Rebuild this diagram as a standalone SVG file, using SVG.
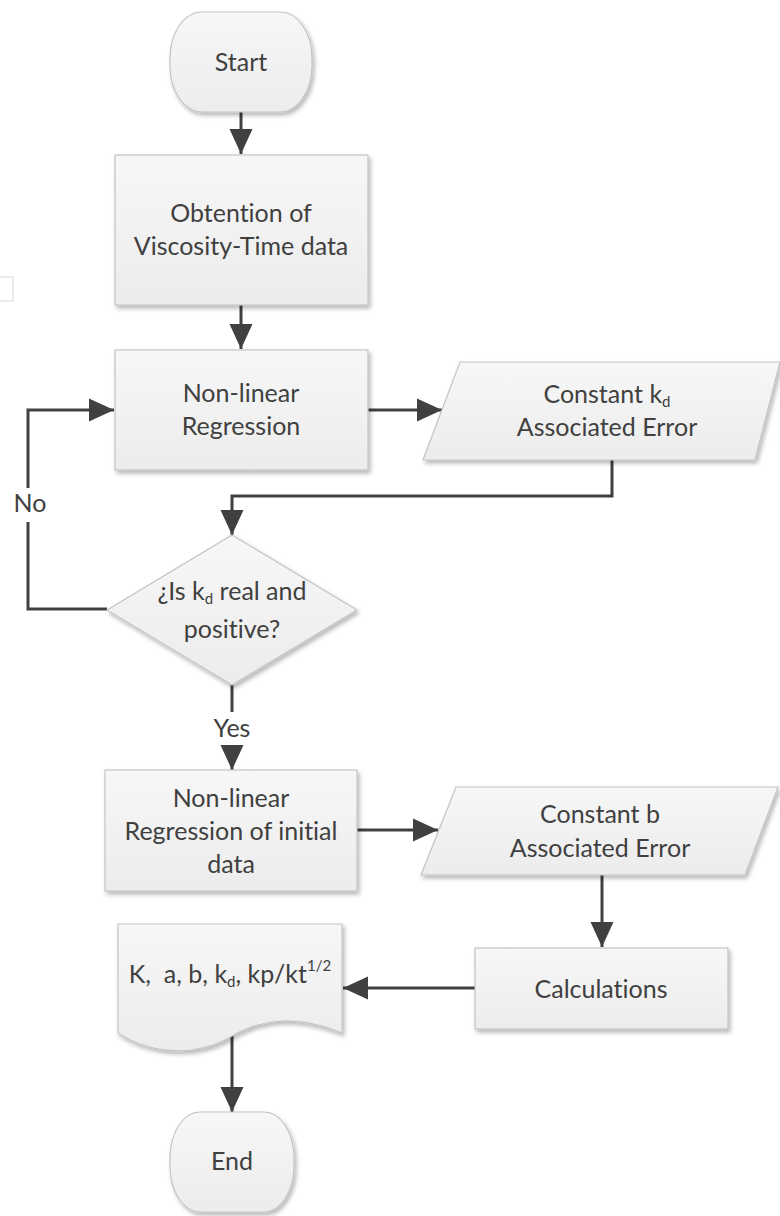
<svg xmlns="http://www.w3.org/2000/svg" width="780" height="1216" viewBox="0 0 780 1216">
<defs>
<linearGradient id="g" x1="0" y1="0" x2="0" y2="1">
<stop offset="0" stop-color="#f7f7f7"/>
<stop offset="1" stop-color="#ececec"/>
</linearGradient>
<filter id="sh" x="-10%" y="-10%" width="125%" height="130%">
<feDropShadow dx="2" dy="3" stdDeviation="2" flood-color="#000" flood-opacity="0.28"/>
</filter>
<marker id="ah" markerUnits="userSpaceOnUse" markerWidth="26" markerHeight="24" viewBox="0 0 26 24" refX="25" refY="12" orient="auto">
<path d="M0,0.5 L25,12 L0,23.5 Z" fill="#404040"/>
</marker>
<style>
.s{fill:url(#g);stroke:#c4c4c4;stroke-width:1.2;filter:url(#sh)}
.t{font-family:Lato,"Open Sans","Liberation Sans",sans-serif;font-size:25px;fill:#404040;text-anchor:middle;font-variant-ligatures:none}
.sub{font-size:15px}
.c{fill:none;stroke:#404040;stroke-width:3}
.a{marker-end:url(#ah)}
</style>
</defs>
<path d="M0,277 H13 V301 H0" fill="none" stroke="#e6e6e6" stroke-width="1.5"/>
<g id="connectors">
<line class="c a" x1="241" y1="112" x2="241" y2="154"/>
<line class="c a" x1="241" y1="305" x2="241" y2="349"/>
<line class="c a" x1="368" y1="410" x2="442" y2="410"/>
<polyline class="c a" points="612,460 612,496 232,496 232,535"/>
<polyline class="c a" points="107,609 28,609 28,410 114,410"/>
<line class="c" x1="232" y1="685" x2="232" y2="712"/>
<line class="c a" x1="232" y1="745" x2="232" y2="770"/>
<line class="c a" x1="357" y1="830" x2="438" y2="830"/>
<line class="c a" x1="602" y1="875" x2="602" y2="947"/>
<line class="c a" x1="475" y1="988" x2="343" y2="988"/>
<line class="c a" x1="232" y1="1036" x2="232" y2="1112"/>
<rect x="10" y="488" width="42" height="34" fill="#fff"/>
<text class="t" x="30" y="512">No</text>
<text class="t" x="232" y="737">Yes</text>
</g>
<g id="start">
<rect class="s" x="170" y="12" width="142" height="100" rx="32" ry="46"/>
<text class="t" x="241" y="71">Start</text>
</g>
<g id="obtention">
<rect class="s" x="115" y="155" width="253" height="150"/>
<text class="t" x="241" y="222">Obtention of</text>
<text class="t" x="241" y="255">Viscosity-Time data</text>
</g>
<g id="regression">
<rect class="s" x="115" y="350" width="253" height="120"/>
<text class="t" x="241" y="402">Non-linear</text>
<text class="t" x="241" y="435">Regression</text>
</g>
<g id="constant-kd">
<polygon class="s" points="460,362 780,362 755,460 423,460"/>
<text class="t" x="607" y="403">Constant k<tspan class="sub" dy="4">d</tspan></text>
<text class="t" x="607" y="436">Associated Error</text>
</g>
<g id="decision">
<polygon class="s" points="232,535 357,610 232,685 107,610"/>
<text class="t" x="232" y="600">¿Is k<tspan class="sub" dy="4">d</tspan><tspan dy="-4"> real and</tspan></text>
<text class="t" x="232" y="638">positive?</text>
</g>
<g id="regression-initial">
<rect class="s" x="105" y="770" width="252" height="121"/>
<text class="t" x="231" y="807">Non-linear</text>
<text class="t" x="231" y="840">Regression of initial</text>
<text class="t" x="231" y="873">data</text>
</g>
<g id="constant-b">
<polygon class="s" points="456,787 778,787 745,875 421,875"/>
<text class="t" x="600" y="823">Constant b</text>
<text class="t" x="600" y="857">Associated Error</text>
</g>
<g id="calculations">
<rect class="s" x="475" y="948" width="253" height="81"/>
<text class="t" x="601" y="998">Calculations</text>
</g>
<g id="results">
<path class="s" d="M118,924 H342 V1033 C300,1016 265,1017 232,1036 C196,1058 150,1054 118,1033 Z"/>
<text class="t" x="230" y="983" style="white-space:pre">K,  a, b, k<tspan class="sub" dy="4">d</tspan><tspan dy="-4">, kp/kt</tspan><tspan class="sub" dy="-12">1/2</tspan></text>
</g>
<g id="end">
<rect class="s" x="170" y="1112" width="124" height="100" rx="30" ry="46"/>
<text class="t" x="232" y="1170">End</text>
</g>
</svg>
